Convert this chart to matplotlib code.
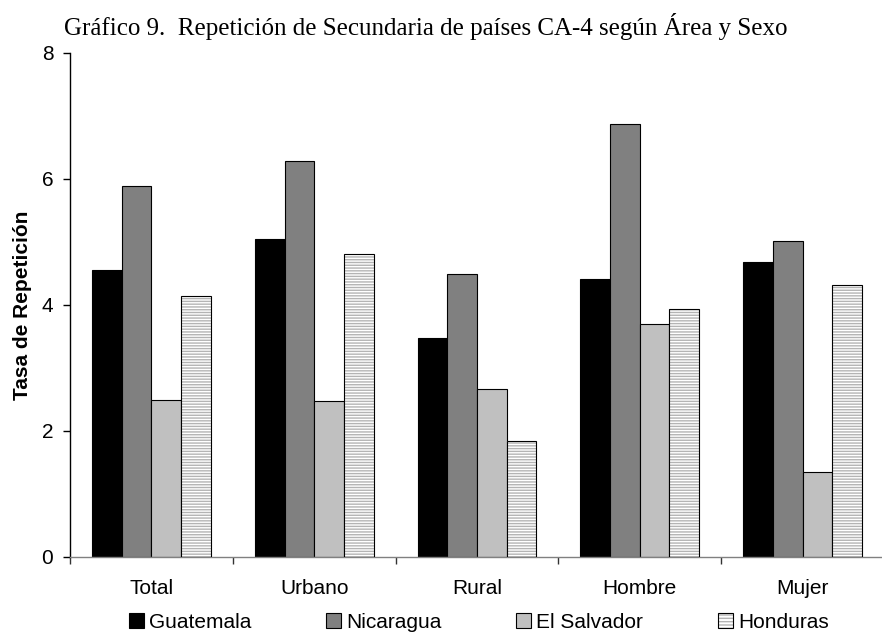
import matplotlib
matplotlib.use("Agg")
import matplotlib.pyplot as plt
import numpy as np
from matplotlib.patches import Patch
from matplotlib.legend_handler import HandlerTuple

plt.rcParams['font.family'] = ['Liberation Sans', 'DejaVu Sans']
plt.rcParams['hatch.color'] = '#b4b4b4'
plt.rcParams['hatch.linewidth'] = 1.0

categories = ["Total", "Urbano", "Rural", "Hombre", "Mujer"]
countries = ["Guatemala", "Nicaragua", "El Salvador", "Honduras"]
guatemala = [4.55, 5.04, 3.48, 4.42, 4.68]
nicaragua = [5.89, 6.29, 4.50, 6.88, 5.02]
el_salvador = [2.49, 2.47, 2.67, 3.70, 1.35]
honduras = [4.15, 4.81, 1.84, 3.93, 4.32]
yticks = [0, 2, 4, 6, 8]

title = "Gráfico 9.  Repetición de Secundaria de países CA-4 según Área y Sexo"
ylabel = "Tasa de Repetición"

fig = plt.figure(figsize=(8.82, 6.33), dpi=100)
ax = fig.add_axes([70 / 882, 1 - 557 / 633, 814 / 882, (557 - 53) / 633])

x = np.arange(len(categories))
w = 0.1822
offs = [-1.5, -0.5, 0.5, 1.5]

ax.bar(x + offs[0] * w, guatemala, w, color='black', edgecolor='black', linewidth=0.8, zorder=2)
ax.bar(x + offs[1] * w, nicaragua, w, color='#808080', edgecolor='black', linewidth=0.8, zorder=2)
ax.bar(x + offs[2] * w, el_salvador, w, color='#c0c0c0', edgecolor='black', linewidth=0.8, zorder=2)
ax.bar(x + offs[3] * w, honduras, w, color='white', edgecolor=None, hatch='------', linewidth=0, zorder=2)
ax.bar(x + offs[3] * w, honduras, w, fill=False, edgecolor='black', linewidth=0.8, zorder=3)

ax.set_xlim(-0.5, 4.5)
ax.set_ylim(0, 8)
ax.set_yticks(yticks)
ax.set_yticklabels([str(v) for v in yticks])
ax.set_xticks(x)
ax.set_xticklabels(categories)
ax.set_xticks(np.arange(-0.5, 5.0, 1.0), minor=True)
ax.tick_params(axis='x', which='major', length=0, pad=16, labelsize=15)
ax.tick_params(axis='x', which='minor', length=5, width=1, direction='out', color='#333333')
ax.tick_params(axis='y', length=5, width=1, direction='out', pad=7, labelsize=15)

for s in ['top', 'right']:
    ax.spines[s].set_visible(False)
ax.spines['bottom'].set_color('#808080')
ax.spines['left'].set_color('black')
ax.spines['bottom'].set_linewidth(1)
ax.spines['left'].set_linewidth(1)

ax.set_ylabel(ylabel, fontsize=15, fontweight='bold', labelpad=7)

fig.text(0.483, 1 - 27 / 633, title, ha='center', va='center', fontsize=18,
         family=['Liberation Serif', 'DejaVu Serif'])

h1 = Patch(facecolor='black', edgecolor='black', linewidth=0.8)
h2 = Patch(facecolor='#808080', edgecolor='black', linewidth=0.8)
h3 = Patch(facecolor='#c0c0c0', edgecolor='black', linewidth=0.8)
h4a = Patch(facecolor='white', edgecolor=None, hatch='-----', linewidth=0)
h4b = Patch(fill=False, edgecolor='black', linewidth=0.8)

fig.legend([h1, h2, h3, (h4a, h4b)], countries,
           handler_map={tuple: HandlerTuple(ndivide=1, pad=0)},
           loc='center left', bbox_to_anchor=(129 / 882, 1 - 622 / 633),
           ncol=4, frameon=False, fontsize=15, borderpad=0,
           handlelength=0.7, handleheight=0.7, handletextpad=0.25,
           columnspacing=3.6, borderaxespad=0)

fig.savefig("out.png", dpi=100)
